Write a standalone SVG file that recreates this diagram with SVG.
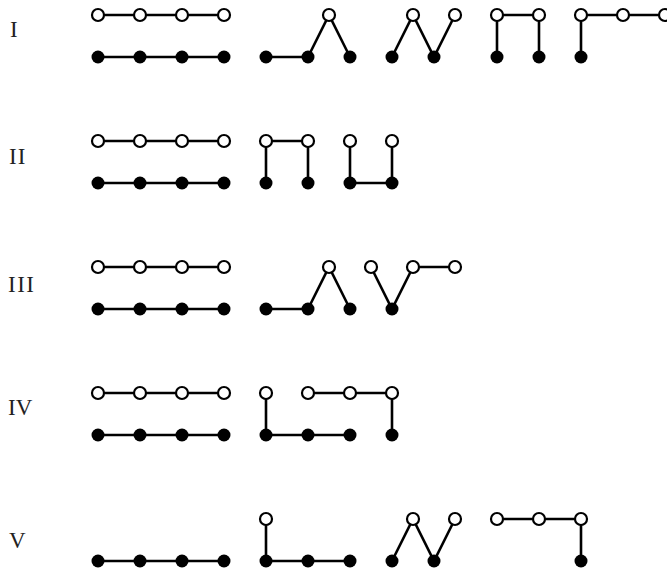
<svg xmlns="http://www.w3.org/2000/svg" width="667" height="571" viewBox="0 0 667 571">
<style>
.e{stroke:#000;stroke-width:2.6;fill:none;stroke-linecap:round}
.o{fill:#fff;stroke:#000;stroke-width:2.2}
.f{fill:#000;stroke:none}
.lbl{font-family:"Liberation Serif","Times New Roman",serif;font-size:23px;fill:#222}
</style>
<rect width="667" height="571" fill="#fff"/>
<g id="labels">
<text class="lbl" x="10" y="37">I</text>
<text class="lbl" x="9" y="164" letter-spacing="1">II</text>
<text class="lbl" x="8" y="292" letter-spacing="1.5">III</text>
<text class="lbl" x="8" y="415">IV</text>
<text class="lbl" x="9" y="548">V</text>
</g>
<g id="connectors" class="e">
<!-- Row I -->
<polyline points="98,15 224,15"/>
<polyline points="98,57 224,57"/>
<polyline points="266,57 308,57 329,15 350,57"/>
<polyline points="392,57 413,15 434,57 455,15"/>
<polyline points="497,57 497,15 539,15 539,57"/>
<polyline points="581,57 581,15 665,15"/>
<!-- Row II -->
<polyline points="98,141 224,141"/>
<polyline points="98,183 224,183"/>
<polyline points="266,183 266,141 308,141 308,183"/>
<polyline points="350,141 350,183 392,183 392,141"/>
<!-- Row III -->
<polyline points="98,267 224,267"/>
<polyline points="98,309 224,309"/>
<polyline points="266,309 308,309 329,267 350,309"/>
<polyline points="371,267 392,309 413,267 455,267"/>
<!-- Row IV -->
<polyline points="98,393 224,393"/>
<polyline points="98,435 224,435"/>
<polyline points="266,393 266,435 350,435"/>
<polyline points="308,393 392,393 392,435"/>
<!-- Row V -->
<polyline points="98,561 224,561"/>
<polyline points="266,519 266,561 350,561"/>
<polyline points="392,561 413,519 434,561 455,519"/>
<polyline points="497,519 581,519 581,561"/>
</g>
<g id="nodes">
<!-- Row I -->
<g id="r1o98"><circle class="o" cx="98" cy="15" r="6"/></g>
<g id="r1o140"><circle class="o" cx="140" cy="15" r="6"/></g>
<g id="r1o182"><circle class="o" cx="182" cy="15" r="6"/></g>
<g id="r1o224"><circle class="o" cx="224" cy="15" r="6"/></g>
<g id="r1f98"><circle class="f" cx="98" cy="57" r="6.5"/></g>
<g id="r1f140"><circle class="f" cx="140" cy="57" r="6.5"/></g>
<g id="r1f182"><circle class="f" cx="182" cy="57" r="6.5"/></g>
<g id="r1f224"><circle class="f" cx="224" cy="57" r="6.5"/></g>
<g id="r1f266"><circle class="f" cx="266" cy="57" r="6.5"/></g>
<g id="r1f308"><circle class="f" cx="308" cy="57" r="6.5"/></g>
<g id="r1f350"><circle class="f" cx="350" cy="57" r="6.5"/></g>
<g id="r1o329"><circle class="o" cx="329" cy="15" r="6"/></g>
<g id="r1f392"><circle class="f" cx="392" cy="57" r="6.5"/></g>
<g id="r1f434"><circle class="f" cx="434" cy="57" r="6.5"/></g>
<g id="r1o413"><circle class="o" cx="413" cy="15" r="6"/></g>
<g id="r1o455"><circle class="o" cx="455" cy="15" r="6"/></g>
<g id="r1o497"><circle class="o" cx="497" cy="15" r="6"/></g>
<g id="r1o539"><circle class="o" cx="539" cy="15" r="6"/></g>
<g id="r1f497"><circle class="f" cx="497" cy="57" r="6.5"/></g>
<g id="r1f539"><circle class="f" cx="539" cy="57" r="6.5"/></g>
<g id="r1o581"><circle class="o" cx="581" cy="15" r="6"/></g>
<g id="r1o623"><circle class="o" cx="623" cy="15" r="6"/></g>
<g id="r1o665"><circle class="o" cx="665" cy="15" r="6"/></g>
<g id="r1f581"><circle class="f" cx="581" cy="57" r="6.5"/></g>
<!-- Row II -->
<g id="r2o98"><circle class="o" cx="98" cy="141" r="6"/></g>
<g id="r2o140"><circle class="o" cx="140" cy="141" r="6"/></g>
<g id="r2o182"><circle class="o" cx="182" cy="141" r="6"/></g>
<g id="r2o224"><circle class="o" cx="224" cy="141" r="6"/></g>
<g id="r2f98"><circle class="f" cx="98" cy="183" r="6.5"/></g>
<g id="r2f140"><circle class="f" cx="140" cy="183" r="6.5"/></g>
<g id="r2f182"><circle class="f" cx="182" cy="183" r="6.5"/></g>
<g id="r2f224"><circle class="f" cx="224" cy="183" r="6.5"/></g>
<g id="r2o266"><circle class="o" cx="266" cy="141" r="6"/></g>
<g id="r2o308"><circle class="o" cx="308" cy="141" r="6"/></g>
<g id="r2f266"><circle class="f" cx="266" cy="183" r="6.5"/></g>
<g id="r2f308"><circle class="f" cx="308" cy="183" r="6.5"/></g>
<g id="r2o350"><circle class="o" cx="350" cy="141" r="6"/></g>
<g id="r2o392"><circle class="o" cx="392" cy="141" r="6"/></g>
<g id="r2f350"><circle class="f" cx="350" cy="183" r="6.5"/></g>
<g id="r2f392"><circle class="f" cx="392" cy="183" r="6.5"/></g>
<!-- Row III -->
<g id="r3o98"><circle class="o" cx="98" cy="267" r="6"/></g>
<g id="r3o140"><circle class="o" cx="140" cy="267" r="6"/></g>
<g id="r3o182"><circle class="o" cx="182" cy="267" r="6"/></g>
<g id="r3o224"><circle class="o" cx="224" cy="267" r="6"/></g>
<g id="r3f98"><circle class="f" cx="98" cy="309" r="6.5"/></g>
<g id="r3f140"><circle class="f" cx="140" cy="309" r="6.5"/></g>
<g id="r3f182"><circle class="f" cx="182" cy="309" r="6.5"/></g>
<g id="r3f224"><circle class="f" cx="224" cy="309" r="6.5"/></g>
<g id="r3f266"><circle class="f" cx="266" cy="309" r="6.5"/></g>
<g id="r3f308"><circle class="f" cx="308" cy="309" r="6.5"/></g>
<g id="r3f350"><circle class="f" cx="350" cy="309" r="6.5"/></g>
<g id="r3o329"><circle class="o" cx="329" cy="267" r="6"/></g>
<g id="r3o371"><circle class="o" cx="371" cy="267" r="6"/></g>
<g id="r3o413"><circle class="o" cx="413" cy="267" r="6"/></g>
<g id="r3o455"><circle class="o" cx="455" cy="267" r="6"/></g>
<g id="r3f392"><circle class="f" cx="392" cy="309" r="6.5"/></g>
<!-- Row IV -->
<g id="r4o98"><circle class="o" cx="98" cy="393" r="6"/></g>
<g id="r4o140"><circle class="o" cx="140" cy="393" r="6"/></g>
<g id="r4o182"><circle class="o" cx="182" cy="393" r="6"/></g>
<g id="r4o224"><circle class="o" cx="224" cy="393" r="6"/></g>
<g id="r4f98"><circle class="f" cx="98" cy="435" r="6.5"/></g>
<g id="r4f140"><circle class="f" cx="140" cy="435" r="6.5"/></g>
<g id="r4f182"><circle class="f" cx="182" cy="435" r="6.5"/></g>
<g id="r4f224"><circle class="f" cx="224" cy="435" r="6.5"/></g>
<g id="r4o266"><circle class="o" cx="266" cy="393" r="6"/></g>
<g id="r4o308"><circle class="o" cx="308" cy="393" r="6"/></g>
<g id="r4o350"><circle class="o" cx="350" cy="393" r="6"/></g>
<g id="r4o392"><circle class="o" cx="392" cy="393" r="6"/></g>
<g id="r4f266"><circle class="f" cx="266" cy="435" r="6.5"/></g>
<g id="r4f308"><circle class="f" cx="308" cy="435" r="6.5"/></g>
<g id="r4f350"><circle class="f" cx="350" cy="435" r="6.5"/></g>
<g id="r4f392"><circle class="f" cx="392" cy="435" r="6.5"/></g>
<!-- Row V -->
<g id="r5f98"><circle class="f" cx="98" cy="561" r="6.5"/></g>
<g id="r5f140"><circle class="f" cx="140" cy="561" r="6.5"/></g>
<g id="r5f182"><circle class="f" cx="182" cy="561" r="6.5"/></g>
<g id="r5f224"><circle class="f" cx="224" cy="561" r="6.5"/></g>
<g id="r5o266"><circle class="o" cx="266" cy="519" r="6"/></g>
<g id="r5f266"><circle class="f" cx="266" cy="561" r="6.5"/></g>
<g id="r5f308"><circle class="f" cx="308" cy="561" r="6.5"/></g>
<g id="r5f350"><circle class="f" cx="350" cy="561" r="6.5"/></g>
<g id="r5f392"><circle class="f" cx="392" cy="561" r="6.5"/></g>
<g id="r5f434"><circle class="f" cx="434" cy="561" r="6.5"/></g>
<g id="r5o413"><circle class="o" cx="413" cy="519" r="6"/></g>
<g id="r5o455"><circle class="o" cx="455" cy="519" r="6"/></g>
<g id="r5o497"><circle class="o" cx="497" cy="519" r="6"/></g>
<g id="r5o539"><circle class="o" cx="539" cy="519" r="6"/></g>
<g id="r5o581"><circle class="o" cx="581" cy="519" r="6"/></g>
<g id="r5f581"><circle class="f" cx="581" cy="561" r="6.5"/></g>
</g>
</svg>
